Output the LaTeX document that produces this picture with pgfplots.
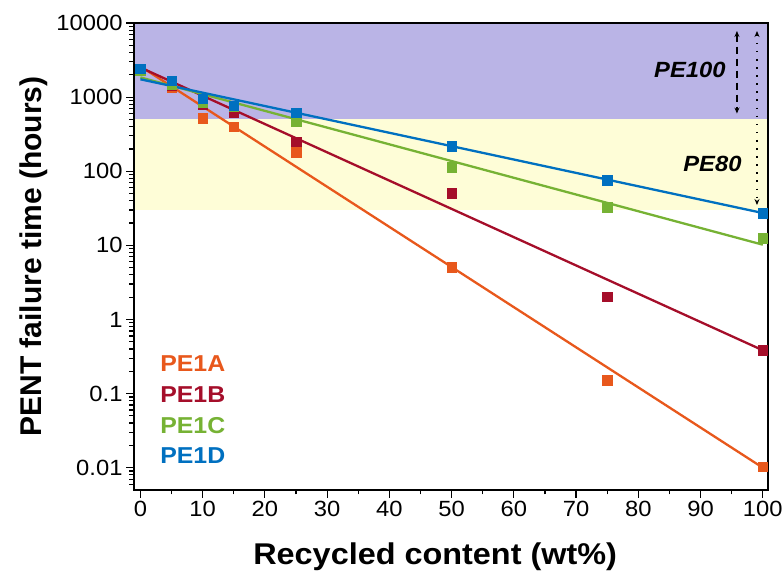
\documentclass[border=0pt]{standalone}
\usepackage{pgfplots}
\pgfplotsset{compat=1.18}
\usepackage{fontspec}
\setmainfont{Liberation Sans}[FakeStretch=1.08]
\newfontfamily\plainfont{Liberation Sans}
\usetikzlibrary{arrows.meta}
\definecolor{cA}{HTML}{E8581C}
\definecolor{cB}{HTML}{A50E2A}
\definecolor{cC}{HTML}{76B234}
\definecolor{cD}{HTML}{0070C0}
\definecolor{cP}{HTML}{BAB4E6}
\definecolor{cY}{HTML}{FEFDD7}
\begin{document}
\begin{tikzpicture}
\begin{axis}[
  scale only axis, width=634bp, height=467bp,
  ymode=log,
  xmin=-1.03, xmax=100.84, ymin=0.005, ymax=10000,
  axis on top,
  axis line style={line width=1.4bp},
  tick align=outside, tick pos=left,
  xtick={0,10,20,30,40,50,60,70,80,90,100},
  xticklabels={0,10,20,30,40,50,60,70,80,90,100},
  minor xtick={5,15,25,35,45,55,65,75,85,95},
  ytick={0.01,0.1,1,10,100,1000,10000},
  yticklabels={0.01,0.1,1,10,100,1000,10000},
  minor ytick={0.006,0.007,0.008,0.009,0.02,0.03,0.04,0.05,0.06,0.07,0.08,0.09,0.2,0.3,0.4,0.5,0.6,0.7,0.8,0.9,2,3,4,5,6,7,8,9,20,30,40,50,60,70,80,90,200,300,400,500,600,700,800,900,2000,3000,4000,5000,6000,7000,8000,9000},
  major tick length=8bp, minor tick length=4.5bp,
  every tick/.style={black, line width=1.2bp},
  tick label style={font=\fontsize{22bp}{26bp}\selectfont},
  xlabel={Recycled content (wt\%)},
  ylabel={PENT failure time (hours)},
  xlabel style={font=\bfseries\fontsize{30bp}{36bp}\selectfont, at={(axis description cs:0.475,-0.143)}, anchor=center},
  ylabel style={font=\plainfont\bfseries\fontsize{30bp}{36bp}\selectfont, at={(axis description cs:-0.158,0.5)}, anchor=center},
]
\fill[cP] (axis cs:-1.03,500) rectangle (axis cs:100.84,10000);
\fill[cY] (axis cs:-1.03,30) rectangle (axis cs:100.84,500);

% PE1A
\addplot[only marks, mark=square*, mark size=4.8bp, cA] coordinates {
(0,2400) (5,1350) (10,520) (15,400) (25,180) (50,5.1) (75,0.152) (100,0.0103)};
\addplot[cA, line width=2.3bp, no marks] coordinates {(0,2600) (100,0.0100)};
% PE1B
\addplot[only marks, mark=square*, mark size=4.8bp, cB] coordinates {
(0,2400) (5,1420) (10,790) (15,615) (25,250) (50,51) (75,2.04) (100,0.384)};
\addplot[cB, line width=2.3bp, no marks] coordinates {(0,2510) (100,0.384)};
% PE1C
\addplot[only marks, mark=square*, mark size=4.8bp, cC] coordinates {
(0,2300) (5,1500) (10,850) (15,740) (25,470) (50,113) (75,33) (100,12.6)};
\addplot[cC, line width=2.3bp, no marks] coordinates {(0,1845) (100,10.2)};
% PE1D
\addplot[only marks, mark=square*, mark size=4.8bp, cD] coordinates {
(0,2415) (5,1665) (10,950) (15,770) (25,615) (50,217) (75,76) (100,27.3)};
\addplot[cD, line width=2.3bp, no marks] coordinates {(0,1740) (100,27.3)};

\draw[line width=1.4bp, dash pattern=on 7bp off 5bp, {Stealth[length=6bp,width=5bp]}-{Stealth[length=6bp,width=5bp]}] (axis cs:95.85,7800) -- (axis cs:95.85,600);
\draw[line width=1.6bp, dash pattern=on 1.6bp off 6.5bp, {Stealth[length=6bp,width=5bp]}-{Stealth[length=6bp,width=5bp]}] (axis cs:99.07,7800) -- (axis cs:99.07,35);

\node[anchor=east, font=\bfseries\itshape\fontsize{22bp}{26bp}\selectfont] at (axis description cs:0.9385,0.8996) {PE100};
\node[anchor=east, font=\bfseries\itshape\fontsize{22bp}{26bp}\selectfont] at (axis description cs:0.9637,0.699) {PE80};

\node[anchor=west, text=cA, font=\bfseries\fontsize{23bp}{27bp}\selectfont] at (axis description cs:0.036,0.271) {PE1A};
\node[anchor=west, text=cB, font=\bfseries\fontsize{23bp}{27bp}\selectfont] at (axis description cs:0.036,0.205) {PE1B};
\node[anchor=west, text=cC, font=\bfseries\fontsize{23bp}{27bp}\selectfont] at (axis description cs:0.036,0.139) {PE1C};
\node[anchor=west, text=cD, font=\bfseries\fontsize{23bp}{27bp}\selectfont] at (axis description cs:0.036,0.073) {PE1D};

\coordinate (bl) at (axis description cs:0,0);
\coordinate (tr) at (axis description cs:1,1);
\end{axis}
\pgfresetboundingbox
\path[use as bounding box] ([shift={(-134bp,-92bp)}]bl) rectangle ([shift={(15bp,23bp)}]tr);
\end{tikzpicture}
\end{document}
